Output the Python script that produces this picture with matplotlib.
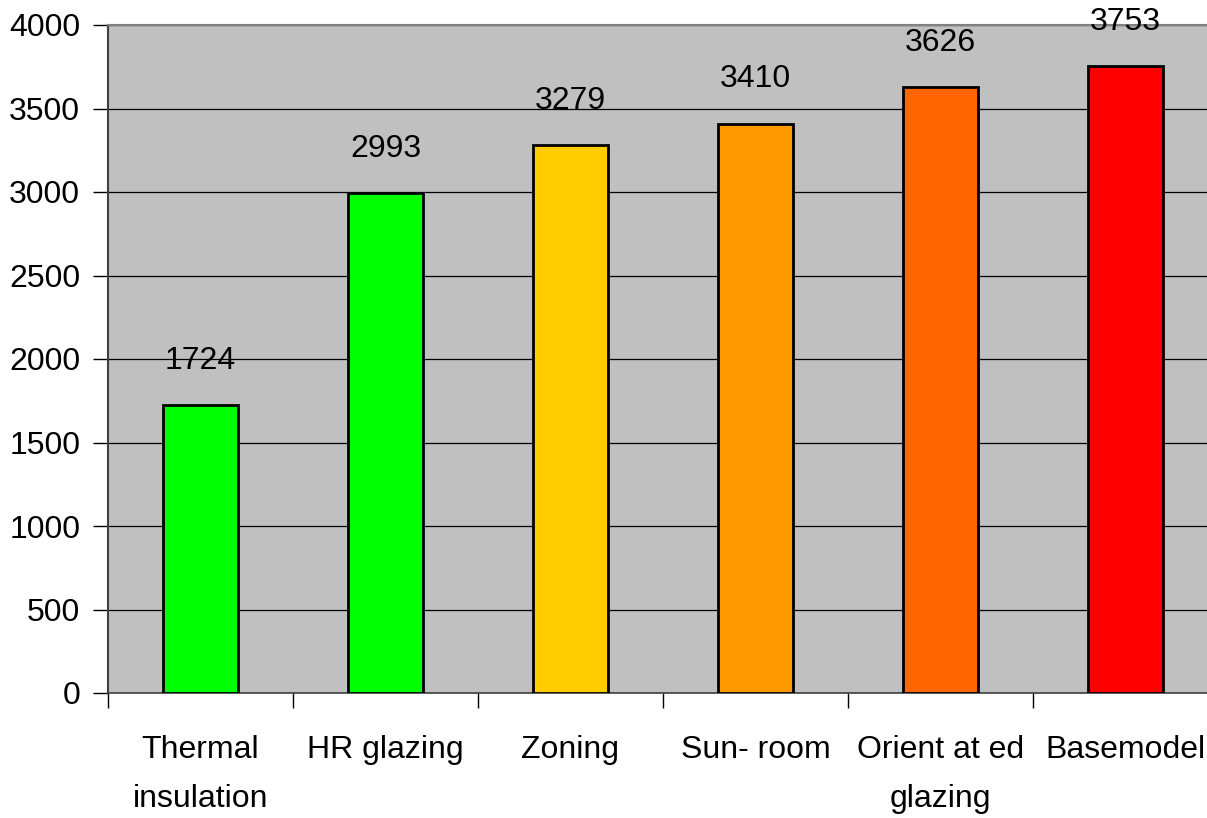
import matplotlib
matplotlib.use('Agg')
import matplotlib.pyplot as plt
from matplotlib.ticker import FixedLocator, MultipleLocator

plt.rcParams['font.family'] = ['Liberation Sans', 'DejaVu Sans']

# --- data ---
categories = ["Thermal\ninsulation", "HR glazing", "Zoning", "Sun- room",
              "Orient at ed\nglazing", "Basemodel"]
values = [1724, 2993, 3279, 3410, 3626, 3753]
colors = ['#00ff00', '#00ff00', '#ffcc00', '#ff9900', '#ff6600', '#ff0000']

fig = plt.figure(figsize=(12.07, 8.18), dpi=100)
ax = fig.add_axes([108 / 1207, 125 / 818, 1110 / 1207, 668 / 818])
ax.set_facecolor('#c0c0c0')

centers = [i + 0.5 for i in range(len(values))]
ax.bar(centers, values, width=0.41, color=colors, edgecolor='black',
       linewidth=2.0, zorder=3)

for x, v in zip(centers, values):
    ax.annotate(str(v), xy=(x, v), xytext=(0, 32), textcoords='offset points',
                ha='center', va='center', fontsize=23, annotation_clip=False)

ax.set_xlim(0, 6)
ax.set_ylim(0, 4000)
ax.yaxis.set_major_locator(MultipleLocator(500))
ax.grid(axis='y', color='black', linewidth=0.9, zorder=1)
ax.set_axisbelow(True)

# category boundary ticks, labels at centres
ax.xaxis.set_major_locator(FixedLocator(range(0, 7)))
ax.xaxis.set_minor_locator(FixedLocator(centers))
ax.set_xticklabels([])
ax.set_xticklabels(categories, minor=True, fontsize=23, linespacing=1.85)
ax.tick_params(axis='x', which='major', direction='out', length=11, width=1)
ax.tick_params(axis='x', which='minor', length=0, pad=30)
ax.tick_params(axis='y', direction='out', length=11, width=1, labelsize=23, pad=9)
for lbl in ax.get_xticklabels(minor=True):
    lbl.set_verticalalignment('top')

ax.spines['top'].set_color('#808080')
ax.spines['top'].set_linewidth(1.5)
ax.spines['right'].set_visible(False)
ax.spines['left'].set_color('#404040')
ax.spines['left'].set_linewidth(1.5)
ax.spines['bottom'].set_color('#404040')
ax.spines['bottom'].set_linewidth(1.2)

fig.savefig('out.png', dpi=100)
